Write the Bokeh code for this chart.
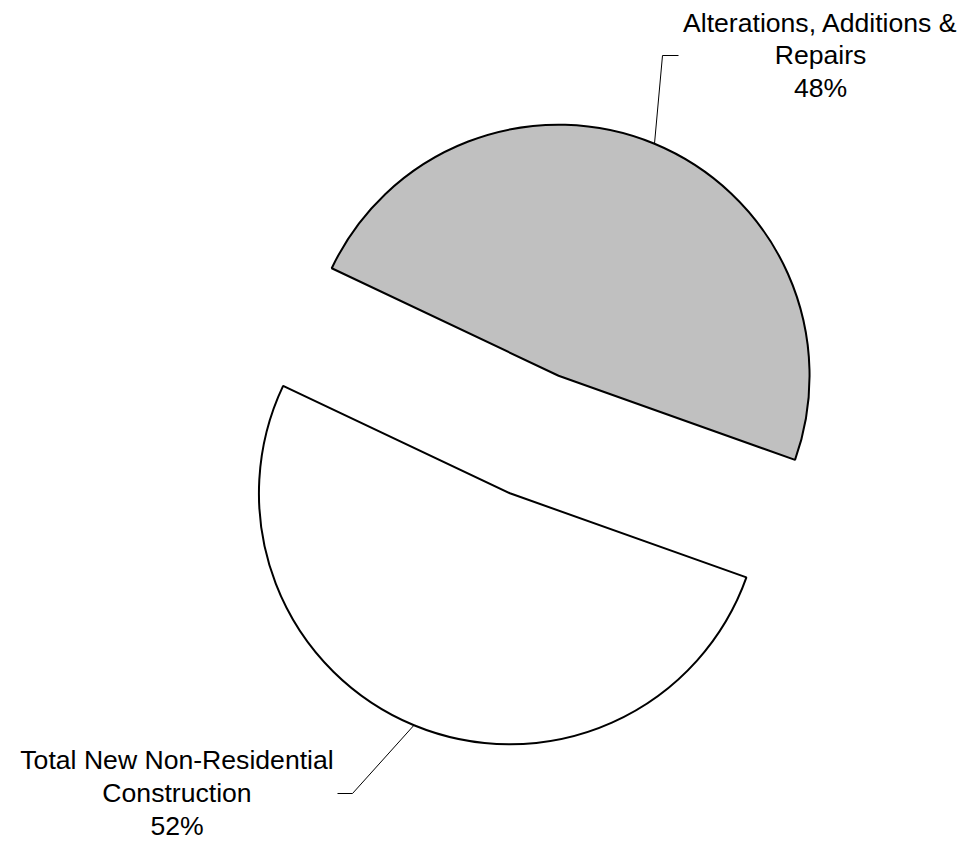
import numpy as np
from bokeh.plotting import figure
from bokeh.models import Range1d, ColumnDataSource
from bokeh.embed import file_html
from bokeh.resources import INLINE
from bokeh.core.properties import value

# ---- data ----
categories = ["Alterations, Additions & Repairs", "Total New Non-Residential Construction"]
values = [48.4, 51.6]
colors = ["#C0C0C0", "#FFFFFF"]
label_lines = [["Alterations, Additions &", "Repairs"],
               ["Total New Non-Residential", "Construction"]]

# ---- layout ----
W, H = 965, 841
p = figure(width=W, height=H, x_range=Range1d(0, W), y_range=Range1d(0, H),
           output_backend="svg", toolbar_location=None, min_border=0)
p.axis.visible = False
p.grid.visible = False
p.outline_line_color = None
p.background_fill_color = "white"
p.border_fill_color = "white"

total = sum(values)
fracs = np.array(values) / total
start_deg = 154.65  # first boundary; slices run clockwise
bounds = start_deg - 360 * np.concatenate([[0], np.cumsum(fracs)])
mids = (bounds[:-1] + bounds[1:]) / 2
base_x, base_y = 533.75, H - 434
explode = 63.6
R = 251
cx = base_x + explode * np.cos(np.radians(mids))
cy = base_y + explode * np.sin(np.radians(mids))

src = ColumnDataSource(dict(x=cx, y=cy,
                            start=np.radians(bounds[1:]),
                            end=np.radians(bounds[:-1]),
                            color=colors, name=categories))
p.wedge(x="x", y="y", radius=R, start_angle="start", end_angle="end",
        fill_color="color", line_color="black", line_width=2, source=src)

# leader lines (start on arc at slice mid-angle)
bend = [(662, H - 55), (352, H - 793)]
tail = [(678, H - 55), (337, H - 793)]
for i in range(2):
    sx = cx[i] + R * np.cos(np.radians(mids[i]))
    sy = cy[i] + R * np.sin(np.radians(mids[i]))
    p.line([sx, bend[i][0], tail[i][0]], [sy, bend[i][1], tail[i][1]],
           line_color="black", line_width=1)

# labels
label_cx = [820, 176.5]
baselines = [[22, 54.5, 87], [759, 792, 825]]
for i in range(2):
    lines = label_lines[i] + [f"{round(values[i] / total * 100)}%"]
    p.text(x=[label_cx[i]] * 3, y=[H - b for b in baselines[i]], text=lines,
           text_align="center", text_baseline="alphabetic",
           text_font=value("Liberation Sans"), text_font_size="26.6px",
           text_color="black")

open("out.html", "w").write(file_html(p, INLINE))
